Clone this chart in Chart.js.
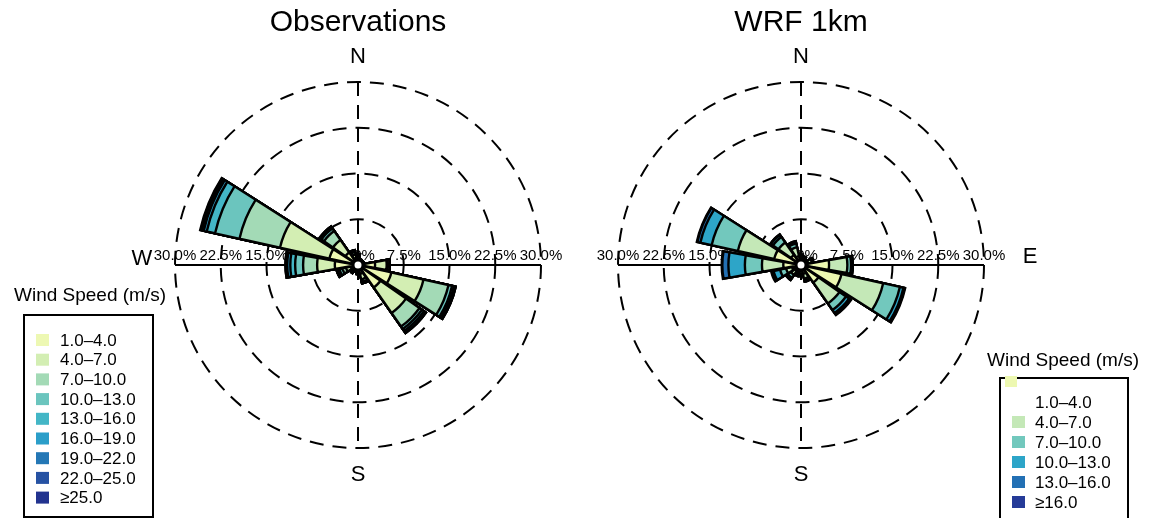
<!DOCTYPE html>
<html>
<head>
<meta charset="utf-8">
<script src="https://cdn.jsdelivr.net/npm/chart.js@4.4.1/dist/chart.umd.min.js"></script>
<style>
  html, body { margin: 0; padding: 0; background: #fff; }
  body { width: 1153px; height: 518px; overflow: hidden; position: relative; }
  canvas { position: absolute; left: 0; top: 0; }
</style>
</head>
<body>
<canvas id="obs" width="1153" height="518"></canvas>
<canvas id="wrf" width="1153" height="518"></canvas>
<script>
// ---- Data (frequency %, per speed bin, per direction) ----
const directions = ['N','NNE','NE','ENE','E','ESE','SE','SSE','S','SSW','SW','WSW','W','WNW','NW','NNW'];
const tickValues = [0, 7.5, 15, 22.5, 30];
const tickLabels = ['0%', '7.5%', '15.0%', '22.5%', '30.0%'];

// Observations
const obsBins = ['1.0\u20134.0','4.0\u20137.0','7.0\u201310.0','10.0\u201313.0','13.0\u201316.0','16.0\u201319.0','19.0\u201322.0','22.0\u201325.0','\u226525.0'];
const obsColors = ['#edf8b3','#d3eeb3','#a3dab6','#6bc5be','#43b6c6','#2b9ec9','#2477b5','#2652a3','#22338f'];
const obs_1_4   = [0.9, 0.6, 0.5, 0.6, 2.8, 5.6, 4.5, 1.5, 0.8, 0.6, 0.8, 1.2, 3.8, 4.8, 2.5, 1.2];
const obs_4_7   = [0.5, 0.3, 0.2, 0.3, 1.9, 5.4, 5.1, 0.9, 0.4, 0.3, 0.4, 0.8, 2.9, 8.3, 2.5, 0.6];
const obs_7_10  = [0.2, 0.1, 0.1, 0.1, 0.2, 4.2, 2.7, 0.4, 0.2, 0.2, 0.2, 0.6, 2.3, 6.8, 1.8, 0.4];
const obs_10_13 = [0.1, 0.0, 0.0, 0.0, 0.3, 0.6, 0.5, 0.2, 0.1, 0.1, 0.2, 0.5, 1.3, 4.1, 0.5, 0.2];
const obs_13_16 = [0.1, 0.0, 0.0, 0.0, 0.0, 0.3, 0.4, 0.1, 0.0, 0.0, 0.0, 0.3, 0.8, 1.4, 0.2, 0.1];
const obs_16_19 = [0.0, 0.0, 0.0, 0.0, 0.0, 0.2, 0.3, 0.0, 0.0, 0.0, 0.0, 0.2, 0.5, 0.5, 0.1, 0.0];
const obs_19_22 = [0.0, 0.0, 0.0, 0.0, 0.0, 0.1, 0.1, 0.0, 0.0, 0.0, 0.0, 0.0, 0.2, 0.3, 0.1, 0.0];
const obs_22_25 = [0.0, 0.0, 0.0, 0.0, 0.0, 0.0, 0.0, 0.0, 0.0, 0.0, 0.0, 0.0, 0.1, 0.2, 0.0, 0.0];
const obs_25up  = [0.0, 0.0, 0.0, 0.0, 0.0, 0.0, 0.0, 0.0, 0.0, 0.0, 0.0, 0.0, 0.0, 0.1, 0.0, 0.0];

// WRF 1km
const wrfBins = ['1.0\u20134.0','4.0\u20137.0','7.0\u201310.0','10.0\u201313.0','13.0\u201316.0','\u226516.0'];
const wrfColors = ['#edf8b1','#c4e8b7','#72c8bd','#2da5c8','#2370b4','#253b98'];
const wrf_1_4   = [0.9, 0.8, 0.7, 1.2, 4.6, 6.8, 3.5, 1.5, 1.0, 0.9, 1.2, 1.5, 2.9, 4.5, 2.0, 1.5];
const wrf_4_7   = [0.5, 0.4, 0.3, 0.6, 3.0, 7.0, 4.2, 0.8, 0.5, 0.5, 0.8, 1.0, 3.5, 6.1, 2.5, 1.5];
const wrf_7_10  = [0.2, 0.2, 0.1, 0.2, 0.6, 2.8, 1.3, 0.3, 0.2, 0.3, 0.6, 1.0, 2.8, 4.4, 1.1, 0.6];
const wrf_10_13 = [0.1, 0.1, 0.1, 0.1, 0.3, 0.6, 0.6, 0.2, 0.1, 0.2, 0.3, 1.1, 2.7, 1.9, 0.4, 0.3];
const wrf_13_16 = [0.0, 0.0, 0.0, 0.0, 0.0, 0.2, 0.3, 0.0, 0.0, 0.0, 0.1, 0.3, 1.0, 0.5, 0.1, 0.1];
const wrf_16up  = [0.0, 0.0, 0.0, 0.0, 0.0, 0.1, 0.1, 0.0, 0.0, 0.0, 0.0, 0.1, 0.1, 0.1, 0.0, 0.0];

const FONT = '"Liberation Sans", Arial, Helvetica, sans-serif';

// Build stacked (cumulative) polar-area datasets; each direction is followed by a small empty gap sector
function stackedDatasets(binLabels, colors, series) {
  const cum = new Array(directions.length).fill(0);
  return series.map((s, k) => {
    const data = [], bg = [], bw = [], ang = [];
    s.forEach((v, i) => {
      cum[i] += v;
      data.push(+cum[i].toFixed(3), 0);
      bg.push(colors[k], 'rgba(0,0,0,0)');
      bw.push(2.4, 0);
      ang.push(20, 2.5);
    });
    return {
      label: binLabels[k],
      data,
      backgroundColor: bg,
      borderColor: '#000',
      borderWidth: bw,
      borderJoinStyle: 'miter',
      angle: ang
    };
  });
}

function rosePlugin(cfg) {
  return {
    id: 'rose_' + cfg.id,
    beforeDatasetsDraw(chart) {
      const s = chart.scales.r, ctx = chart.ctx;
      const cx = s.xCenter, cy = s.yCenter, R = s.drawingArea;
      ctx.save();
      ctx.strokeStyle = '#000';
      ctx.lineWidth = 2;
      ctx.setLineDash([14, 9]);
      ctx.beginPath(); ctx.moveTo(cx, cy - R); ctx.lineTo(cx, cy + R); ctx.stroke();
      ctx.setLineDash([]);
      ctx.beginPath(); ctx.moveTo(cx - R, cy); ctx.lineTo(cx + R, cy); ctx.stroke();
      ctx.fillStyle = '#000';
      ctx.font = '15px ' + FONT;
      ctx.textAlign = 'center';
      ctx.textBaseline = 'alphabetic';
      tickValues.forEach((v, i) => {
        const d = s.getDistanceFromCenterForValue(v);
        if (v === 0) {
          ctx.fillText(tickLabels[i], cx + 6, cy - 5);
        } else {
          ctx.fillText(tickLabels[i], cx - d, cy - 5);
          ctx.fillText(tickLabels[i], cx + d, cy - 5);
        }
      });
      ctx.restore();
    },
    afterDatasetsDraw(chart) {
      const s = chart.scales.r, ctx = chart.ctx;
      ctx.save();
      ctx.beginPath();
      ctx.arc(s.xCenter, s.yCenter, 4.5, 0, Math.PI * 2);
      ctx.fillStyle = '#fff';
      ctx.fill();
      ctx.lineWidth = 2;
      ctx.strokeStyle = '#000';
      ctx.stroke();
      ctx.restore();
    },
    afterDraw(chart) {
      const s = chart.scales.r, ctx = chart.ctx;
      const cx = s.xCenter, cy = s.yCenter, R = s.drawingArea;
      ctx.save();
      ctx.fillStyle = '#000';
      ctx.textAlign = 'center';
      ctx.textBaseline = 'middle';
      ctx.font = '30px ' + FONT;
      ctx.fillText(cfg.title, cx, 23);
      ctx.font = '22px ' + FONT;
      ctx.fillText('N', cx, 57);
      ctx.fillText('S', cx, cy + R + 27);
      if (cfg.side === 'W') ctx.fillText('W', cx - R - 33, cy - 6);
      if (cfg.side === 'E') ctx.fillText('E', cx + R + 46, cy - 8);

      // legend
      const L = cfg.legend;
      ctx.textAlign = 'left';
      ctx.font = L.titleSize + 'px ' + FONT;
      ctx.fillText('Wind Speed (m/s)', L.titleX, L.titleY);
      ctx.lineWidth = 2;
      ctx.strokeStyle = '#000';
      ctx.beginPath();
      ctx.moveTo(L.x, L.y + L.h); ctx.lineTo(L.x, L.y); ctx.lineTo(L.x + L.w, L.y); ctx.lineTo(L.x + L.w, L.y + L.h);
      if (L.closed) ctx.closePath();
      ctx.stroke();
      ctx.font = L.itemSize + 'px ' + FONT;
      chart.data.datasets.forEach((ds, k) => {
        const y = L.rowY + k * L.rowStep;
        ctx.fillStyle = ds.backgroundColor[0];
        if (k === 0 && L.firstSwatch) {
          ctx.fillRect(L.firstSwatch[0], L.firstSwatch[1], 12, 11);
        } else {
          ctx.fillRect(L.swX, y - 6, 13, 12);
        }
        ctx.fillStyle = '#000';
        ctx.fillText(ds.label, L.textX, y + 1);
      });
      ctx.restore();
    }
  };
}

function makeRose(id, cfg, datasets) {
  const labels = [];
  directions.forEach(d => labels.push(d, ''));
  return new Chart(document.getElementById(id), {
    type: 'polarArea',
    data: { labels, datasets },
    options: {
      responsive: false,
      animation: false,
      layout: { padding: cfg.padding },
      plugins: { legend: { display: false }, tooltip: { enabled: false } },
      scales: {
        r: {
          min: 0,
          max: 30,
          startAngle: -10,
          ticks: { display: false, stepSize: 7.5 },
          grid: { circular: true, color: '#000', lineWidth: 2 },
          border: { dash: [14, 9] },
          angleLines: { display: false },
          pointLabels: { display: false }
        }
      }
    },
    plugins: [rosePlugin(cfg)]
  });
}

makeRose('obs', {
  id: 'obs', title: 'Observations', side: 'W',
  padding: { left: 175, top: 82, right: 612, bottom: 70 },
  legend: { titleX: 14, titleY: 296, titleSize: 19, x: 24, y: 315, w: 129, h: 202, closed: true,
            rowY: 340, rowStep: 19.7, swX: 36, textX: 60, itemSize: 17 }
}, stackedDatasets(obsBins, obsColors, [obs_1_4, obs_4_7, obs_7_10, obs_10_13, obs_13_16, obs_16_19, obs_19_22, obs_22_25, obs_25up]));

makeRose('wrf', {
  id: 'wrf', title: 'WRF 1km', side: 'E',
  padding: { left: 618, top: 82, right: 169, bottom: 70 },
  legend: { titleX: 987, titleY: 361, titleSize: 19, x: 1000, y: 378, w: 128, h: 150, closed: false,
            rowY: 402, rowStep: 20, swX: 1012, textX: 1035, itemSize: 17, firstSwatch: [1005, 376] }
}, stackedDatasets(wrfBins, wrfColors, [wrf_1_4, wrf_4_7, wrf_7_10, wrf_10_13, wrf_13_16, wrf_16up]));
</script>
</body>
</html>
